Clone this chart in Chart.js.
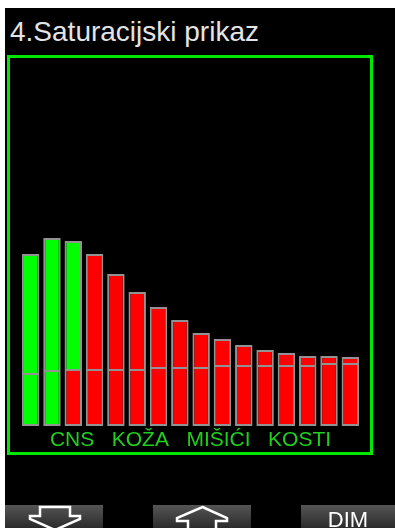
<!DOCTYPE html>
<html>
<head>
<meta charset="utf-8">
<script src="https://cdn.jsdelivr.net/npm/chart.js@4/dist/chart.umd.min.js"></script>
<style>
  html, body { margin: 0; padding: 0; background: #fff; width: 395px; height: 528px; overflow: hidden; }
  #screen { position: absolute; left: 5px; top: 8px; width: 390px; height: 520px; background: #000; }
  #title { position: absolute; left: 10px; top: 18px; font-family: "Liberation Sans", Arial, sans-serif;
           font-size: 28px; line-height: 28px; color: #e4e4e4; white-space: nowrap; }
  #box { position: absolute; left: 7px; top: 55px; width: 366px; height: 400px; box-sizing: border-box;
         border: 3px solid #00e800; }
  #satGraph { display: block; }
  #buttons { position: absolute; left: 0; top: 0; }
</style>
</head>
<body>
<div id="screen"></div>
<div id="title">4.Saturacijski prikaz</div>
<div id="box"><canvas id="satGraph" width="360" height="394"></canvas></div>
<svg id="buttons" width="395" height="528" viewBox="0 0 395 528">
  <defs>
    <linearGradient id="btn" x1="0" y1="0" x2="0" y2="1">
      <stop offset="0" stop-color="#555"/>
      <stop offset="1" stop-color="#2b2b2b"/>
    </linearGradient>
  </defs>
  <rect x="5" y="505" width="98" height="23" fill="url(#btn)"/>
  <rect x="153" y="505" width="98" height="23" fill="url(#btn)"/>
  <rect x="301" y="505" width="94" height="23" fill="url(#btn)"/>
  <polygon points="40,507 70,507 70,516 80,516 80,519 55,530 30,519 30,516 40,516"
           fill="none" stroke="#fff" stroke-width="2.5"/>
  <polygon points="202.5,507 227,518 227,521 216,521 216,530 188,530 188,521 177,521 177,518"
           fill="none" stroke="#fff" stroke-width="2.5"/>
  <text x="348" y="527" fill="#fff" text-anchor="middle" font-family="Liberation Sans, Arial, sans-serif"
        font-size="22">DIM</text>
</svg>

<script>
// tkivni odjeljci (16), donji dio stupca i gornji dio stupca
var compartments = ['1','2','3','4','5','6','7','8','9','10','11','12','13','14','15','16'];
var baseLoad  = [52, 55, 56, 56, 56, 56, 58, 58, 58, 60, 60, 60, 60, 60, 62, 62];
var extraLoad = [120, 133, 129, 116, 96, 78, 61, 48, 35, 27, 21, 16, 13, 10, 8, 7];
var tissueGroups = ['CNS', 'KOŽA', 'MIŠIĆI', 'KOSTI'];
// koliko odjeljaka je zeleno (ostali crveni)
var greenBase = 2;
var greenExtra = 3;

function colorsFor(n){
  var c = [];
  for (var i = 0; i < compartments.length; i++){
    c.push(i < n ? '#00ff00' : '#ff0000');
  }
  return c;
}

function printSatGraph(){
  var ctx = document.getElementById('satGraph').getContext('2d');
  var satChart = new Chart(ctx, {
    type: 'bar',
    data: {
      labels: compartments,
      datasets: [{
        data: baseLoad,
        backgroundColor: colorsFor(greenBase),
        borderColor: '#929292',
        borderWidth: {top: 1, left: 2, right: 2, bottom: 2},
        borderSkipped: false
      }, {
        data: extraLoad,
        backgroundColor: colorsFor(greenExtra),
        borderColor: '#929292',
        borderWidth: {top: 2, left: 2, right: 2, bottom: 1},
        borderSkipped: false
      }]
    },
    options: {
      responsive: false,
      animation: false,
      barPercentage: 0.82,
      categoryPercentage: 1,
      layout: { padding: { left: 10, right: 9, top: 168, bottom: 1 } },
      plugins: { legend: { display: false }, tooltip: { enabled: false } },
      scales: {
        x: {
          stacked: true,
          grid: { display: false, drawTicks: false },
          border: { display: false },
          ticks: { display: false },
          title: {
            display: true,
            text: tissueGroups.join('   '),
            color: '#1fd01f',
            font: { family: 'Liberation Sans', size: 21, lineHeight: 1 },
            padding: { top: 4, bottom: 0 }
          }
        },
        y: { stacked: true, display: false, min: 0, max: 200 }
      }
    }
  });
}

function init(){
  printSatGraph();
}

window.addEventListener('load', init);
</script>
</body>
</html>
